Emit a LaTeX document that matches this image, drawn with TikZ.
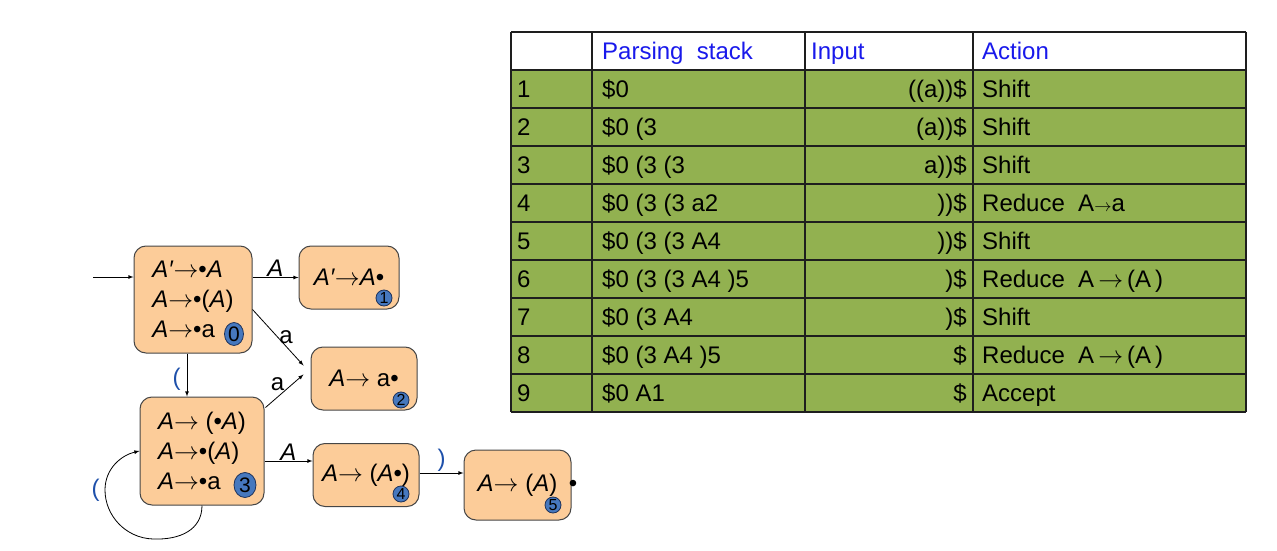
\documentclass[tikz,border=0pt]{standalone}
\usepackage{fontspec}
\setmainfont{Liberation Sans}
\usetikzlibrary{arrows, shapes.geometric}

\definecolor{peach}{RGB}{252,204,153}
\definecolor{boxline}{RGB}{70,70,70}
\definecolor{numblue}{RGB}{70,120,190}
\definecolor{numline}{RGB}{30,50,90}
\definecolor{lblue}{RGB}{30,80,170}
\definecolor{headblue}{RGB}{25,25,235}
\definecolor{tabgreen}{RGB}{146,177,80}
\definecolor{tabline}{RGB}{30,30,30}

\newcommand{\itA}{\textit{A}}
\newcommand{\arr}{$\rightarrow$}

\begin{document}
\begin{tikzpicture}[>=latex, x=1pt, y=-1pt, font=\fontsize{24}{30}\selectfont,
    itembox/.style={draw=boxline, fill=peach, rounded corners=12pt, line width=1pt, inner sep=0pt, align=left},
    stateno/.style={ellipse, draw=numline, fill=numblue, inner sep=0pt, line width=.8pt, font=\fontsize{21}{21}\selectfont},
    smallno/.style={stateno, font=\fontsize{16}{16}\selectfont, minimum width=16pt, minimum height=16pt},
    link/.style={->, line width=.8pt},
    lbl/.style={inner sep=1pt},
    tabrule/.style={line width=1.2pt, draw=tabline},
    cell/.style={inner sep=0pt}]

\useasboundingbox (0,0) rectangle (1277,551);

%\draw[step=50pt, color=gray!30] (0,0) grid (1277,551);

% items
\node[itembox, minimum width=118pt, minimum height=107pt] (s0) at (193,299.5)
    {\textit{A′}\arr•\itA \\ \itA\arr•(\itA) \\ \itA\arr•a};
\node[itembox, minimum width=100pt, minimum height=63pt] (s1) at (349,277.5) {\textit{A′}\arr\itA•};
\node[itembox, minimum width=106pt, minimum height=63pt] (s2) at (364,378.5) {\itA\arr\ a•};
\node[itembox, minimum width=124pt, minimum height=108pt] (s3) at (202,451)
    {\itA\arr\ (•\itA) \\ \itA\arr•(\itA) \\ \itA\arr•a};
\node[itembox, minimum width=106pt, minimum height=63pt] (s4) at (366,475) {\itA\arr\ (\itA•)};
\node[itembox, minimum width=107pt, minimum height=70pt] (s5) at (517.5,485) {\itA\arr\ (\itA)};
\node[cell] (dot5) at (573,486) {•};

\node[stateno, minimum width=19pt, minimum height=23pt] (c0) at (234,334) {0};
\node[smallno] (c1) at (384,298) {1};
\node[smallno] (c2) at (401,400) {2};
\node[stateno, minimum width=22pt, minimum height=25pt] (c3) at (245,485) {3};
\node[smallno] (c4) at (401,494) {4};
\node[smallno] (c5) at (553,505) {5};

% transitions
\coordinate (start) at (93,277);
\draw[link] (start) -- (start -| s0.west);
\draw[link] (s0.east |- s1.west) -- node[lbl, above] {\itA} (s1.west);
\draw[link] ([shift={(0,10)}]s0.east) -- node[lbl, midway, right] {a} ([shift={(-7,-13)}]s2.west);
\draw[link] ([shift={(1,11)}]s3.north east) -- node[midway, above left, inner sep=0pt] {a} ([shift={(-7,-4)}]s2.west);
\draw[link] ([xshift=-6pt]s0.south) -- node[lbl, pos=.6, left=5pt, text=lblue] {(} ([xshift=-6pt]s0.south |- s3.north);
\draw[link] ([shift={(0,10)}]s3.east) -- node[above, inner sep=0pt] {\itA} ([shift={(0,10)}]s3.east -| s4.west);
\draw[link] ([shift={(0,-2)}]s4.east) -- node[lbl, above, text=lblue] {)} ([shift={(0,-2)}]s4.east -| s5.west);
\draw[link] (s3.south) .. controls (202,530) and (180,540) .. (153,539)
    .. controls (125,538) and (105,515) .. (105,490) node[lbl, left=4pt, text=lblue] {(}
    .. controls (105,468) and (122,455) .. (s3.west);

% parsing table
\fill[tabgreen] (511,70) rectangle (1246,412);
\foreach \y in {32,70,108,146,184,222,260,298,336,374,412}
    \draw[tabrule] (511,\y) -- (1246,\y);
\foreach \x in {511,592,805,973,1246}
    \draw[tabrule] (\x,32) -- (\x,412);

\begin{scope}[font=\fontsize{24}{28}\selectfont]
\node[cell, anchor=base west, text=headblue] (hstack) at (602,59.5) {Parsing\ \ stack};
\node[cell, anchor=base west, text=headblue] (hinput) at (811,59.5) {Input};
\node[cell, anchor=base west, text=headblue] (haction) at (982,59.5) {Action};

\foreach \i/\stk/\inp/\act [evaluate=\i as \yb using 70+38*\i-10.5] in {
    1/{\$0}/{((a))\$}/{Shift},
    2/{\$0 (3}/{(a))\$}/{Shift},
    3/{\$0 (3 (3}/{a))\$}/{Shift},
    4/{\$0 (3 (3 a2}/{))\$}/{Reduce\ \ A{$\scriptstyle\rightarrow$}a},
    5/{\$0 (3 (3 A4}/{))\$}/{Shift},
    6/{\$0 (3 (3 A4 )5}/{)\$}/{Reduce\ \ A\,\arr\,(A\,)},
    7/{\$0 (3 A4}/{)\$}/{Shift},
    8/{\$0 (3 A4 )5}/{\$}/{Reduce\ \ A\,\arr\,(A\,)},
    9/{\$0 A1}/{\$}/{Accept}} {
  \node[cell, anchor=base west] (n\i) at (517,\yb) {\i};
  \node[cell, anchor=base west] (p\i) at (602,\yb) {\stk};
  \node[cell, anchor=base east] (in\i) at (967,\yb) {\inp};
  \node[cell, anchor=base west] (a\i) at (982,\yb) {\act};
}
\end{scope}

\end{tikzpicture}
\end{document}
